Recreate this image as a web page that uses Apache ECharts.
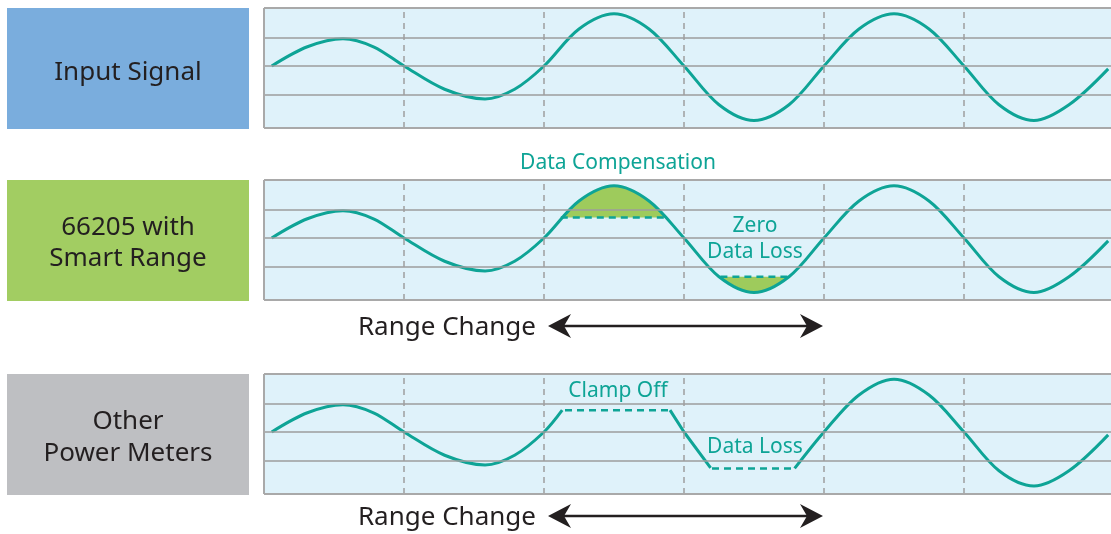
<!DOCTYPE html>
<html><head><meta charset="utf-8">
<script src="https://cdn.jsdelivr.net/npm/echarts@6/dist/echarts.min.js"></script>
<style>html,body{margin:0;padding:0;background:#fff}#c{width:1111px;height:534px}</style>
</head><body><div id="c"></div>
<script>
// ---------- data (x in grid divisions, y in grid levels) ----------
const panelLabels = [['Input Signal'], ['66205 with', 'Smart Range'], ['Other', 'Power Meters']];
const divisionLines = [1, 2, 3, 4, 5];
const levelLines = [-1, 0, 1];
const firstCycle = [
  [0.055, 0], [0.31, 0.67], [0.564, 0.95], [0.782, 0.67], [1.0, 0],
  [1.29, -0.81], [1.579, -1.15], [1.79, -0.81], [2.0, 0]
];
const laterCycles = [
  [2.25, 1.29], [2.5, 1.82], [2.75, 1.29], [3.0, 0], [3.25, -1.35], [3.5, -1.9], [3.75, -1.35], [4.0, 0],
  [4.25, 1.29], [4.5, 1.82], [4.75, 1.29], [5.0, 0], [5.25, -1.35], [5.5, -1.9], [5.75, -1.35], [6.03, -0.1]
];
const inputWave = firstCycle.concat(laterCycles);
const smartFillTop = [[2.12, 0.71], [2.25, 1.29], [2.5, 1.82], [2.75, 1.29], [2.88, 0.71]];
const smartClampTop = [[2.12, 0.71], [2.89, 0.71]];
const smartFillBottom = [[3.25, -1.35], [3.5, -1.9], [3.75, -1.35]];
const smartClampBottom = [[3.26, -1.35], [3.76, -1.35]];
const otherLeft = firstCycle.concat([[2.13, 0.76]]);
const otherClampTop = [[2.15, 0.76], [2.89, 0.76]];
const otherDrop = [[2.9, 0.76], [3.0, 0], [3.19, -1.25]];
const otherClampBottom = [[3.2, -1.27], [3.79, -1.27]];
const otherRight = [
  [3.79, -1.27], [4.0, 0], [4.25, 1.29], [4.5, 1.84], [4.75, 1.29], [5.0, 0], [5.25, -1.35], [5.5, -1.88],
  [5.75, -1.35], [6.03, -0.1]
];
const rangeChangeSpan = [2, 4];

// ---------- layout / style ----------
const PLOT_LEFT = 264, DIV = 140, PANEL_H = 120, PLOT_W = 847, Y_MIN = -2.16, Y_MAX = 2.02;
const X_MAX = PLOT_W / DIV;
const TOPS = [8, 180, 374];
const BOX_COLORS = ['#7aaddd', '#a2cd62', '#bebfc2'];
const TEAL = '#0ea496', GREEN = '#9ecb5c', FONT = '"Noto Sans", "Open Sans", sans-serif';
const LABEL_Y = [[73], [228, 259], [422, 454]];
const BORDER = {type: 'solid', color: '#a9a9a9', width: 2};

const chart = echarts.init(document.getElementById('c'));
const grids = [], xAxes = [], yAxes = [], series = [], graphics = [];

TOPS.forEach((top, i) => {
  grids.push({left: PLOT_LEFT, top: top, width: PLOT_W, height: PANEL_H, show: true,
    backgroundColor: '#dff2fa', borderWidth: 0});
  xAxes.push({gridIndex: i, type: 'value', min: 0, max: X_MAX, show: false});
  yAxes.push({gridIndex: i, type: 'value', min: Y_MIN, max: Y_MAX, show: false});
  series.push({type: 'line', xAxisIndex: i, yAxisIndex: i, data: [], z: 1, silent: true,
    markLine: {silent: true, symbol: 'none', label: {show: false}, animation: false,
      data: levelLines.map(v => ({yAxis: v, lineStyle: {type: 'solid', color: '#9c9c9c', width: 1.5}}))
        .concat(divisionLines.map(v => ({xAxis: v, lineStyle: {type: [6, 5], color: '#9e9e9e', width: 1.5}})))
        .concat([{yAxis: Y_MIN, lineStyle: BORDER}, {yAxis: Y_MAX, lineStyle: BORDER}, {xAxis: 0, lineStyle: BORDER}])}});
  graphics.push({type: 'rect', shape: {x: 7, y: top, width: 242, height: PANEL_H + 1}, style: {fill: BOX_COLORS[i]}});
  panelLabels[i].forEach((t, k) => graphics.push({type: 'text', style: {text: t, x: 128, y: LABEL_Y[i][k],
    textAlign: 'center', textVerticalAlign: 'middle', font: '26px ' + FONT, fill: '#231f20'}}));
});

function wave(data, idx, opts) {
  return Object.assign({type: 'line', xAxisIndex: idx, yAxisIndex: idx, data: data, showSymbol: false,
    smooth: 0.33, animation: false, silent: true, z: 3, lineStyle: {color: TEAL, width: 3}}, opts || {});
}
function fill(data, idx, origin) {
  return wave(data, idx, {z: 2, lineStyle: {width: 0, opacity: 0}, areaStyle: {color: GREEN, opacity: 1, origin: origin}});
}
function clamp(data, idx) {
  return wave(data, idx, {smooth: false, z: 4, lineStyle: {color: TEAL, width: 2.5, type: [7, 5]}});
}

series.push(wave(inputWave, 0));
series.push(fill(smartFillTop, 1, smartClampTop[0][1]));
series.push(fill(smartFillBottom, 1, smartClampBottom[0][1]));
series.push(wave(inputWave, 1));
series.push(clamp(smartClampTop, 1));
series.push(clamp(smartClampBottom, 1));
series.push(wave(otherLeft, 2));
series.push(clamp(otherClampTop, 2));
series.push(wave(otherDrop, 2, {smooth: false}));
series.push(clamp(otherClampBottom, 2));
series.push(wave(otherRight, 2));

// annotations
const notes = [
  ['Data Compensation', 618, 163], ['Zero', 755, 226], ['Data Loss', 755, 252],
  ['Clamp Off', 618, 391], ['Data Loss', 755, 447]
];
notes.forEach(n => graphics.push({type: 'text', style: {text: n[0], x: n[1], y: n[2], textAlign: 'center',
  textVerticalAlign: 'middle', font: '21px ' + FONT, fill: TEAL}}));

// range change arrows
[326, 516].forEach(y => {
  graphics.push({type: 'text', style: {text: 'Range Change', x: 536, y: y + 2, textAlign: 'right',
    textVerticalAlign: 'middle', font: '26px ' + FONT, fill: '#231f20'}});
  const x1 = PLOT_LEFT + rangeChangeSpan[0] * DIV + 4, x2 = PLOT_LEFT + rangeChangeSpan[1] * DIV - 1;
  graphics.push({type: 'line', shape: {x1: x1 + 12, y1: y, x2: x2 - 12, y2: y}, style: {stroke: '#231f20', lineWidth: 2.5}});
  graphics.push({type: 'polygon', shape: {points: [[x1, y], [x1 + 23, y - 12], [x1 + 16, y], [x1 + 23, y + 12]]}, style: {fill: '#231f20'}});
  graphics.push({type: 'polygon', shape: {points: [[x2, y], [x2 - 23, y - 12], [x2 - 16, y], [x2 - 23, y + 12]]}, style: {fill: '#231f20'}});
});

chart.setOption({animation: false, grid: grids, xAxis: xAxes, yAxis: yAxes, series: series, graphic: graphics});
</script></body></html>
